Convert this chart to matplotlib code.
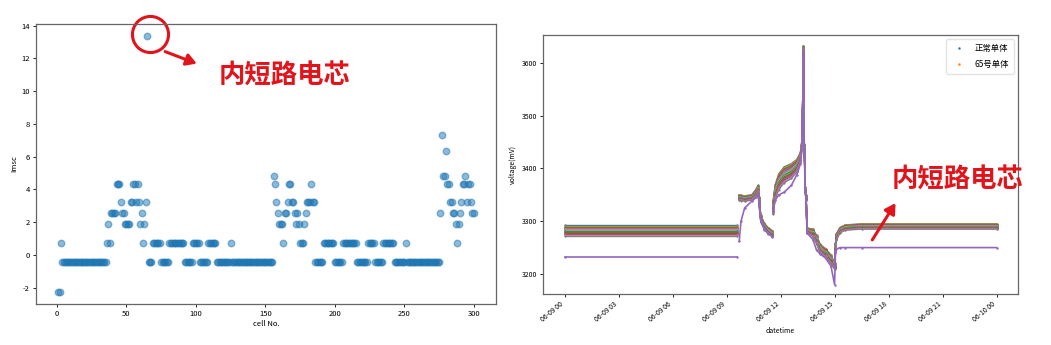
import numpy as np
import matplotlib
matplotlib.use("Agg")
import matplotlib.pyplot as plt
import matplotlib.dates as mdates
from matplotlib.lines import Line2D

plt.rcParams['font.family'] = ['Noto Sans CJK SC', 'DejaVu Sans']
plt.rcParams['axes.unicode_minus'] = False

# ---- left chart: Imsc of every cell ----
imsc = [
    -2.24, -2.24, 0.73, -0.41, -0.41, -0.41, -0.41, -0.41, -0.41, -0.41,
    -0.41, -0.41, -0.41, -0.41, -0.41, -0.41, -0.41, -0.41, -0.41, -0.41,
    -0.41, -0.41, -0.41, -0.41, -0.41, -0.41, -0.41, -0.41, -0.41, -0.41,
    -0.41, -0.41, -0.41, -0.41, -0.41, 0.73, 1.9, 0.73, 2.57, 2.57,
    2.57, 2.57, 4.3, 4.3, 4.3, 3.2, 2.57, 2.57, 1.9, 1.9,
    1.9, 1.9, 3.2, 3.2, 4.3, 4.3, 3.2, 4.3, 3.2, 1.9,
    2.57, 0.73, 1.9, 3.2, 13.37, -0.41, -0.41, -0.41, 0.73, 0.73,
    0.73, 0.73, 0.73, 0.73, -0.41, -0.41, -0.41, -0.41, -0.41, -0.41,
    0.73, 0.73, 0.73, 0.73, 0.73, 0.73, 0.73, 0.73, 0.73, 0.73,
    0.73, -0.41, -0.41, -0.41, -0.41, -0.41, -0.41, 0.73, 0.73, 0.73,
    0.73, 0.73, -0.41, -0.41, -0.41, -0.41, -0.41, -0.41, 0.73, 0.73,
    0.73, 0.73, 0.73, 0.73, -0.41, -0.41, -0.41, -0.41, -0.41, -0.41,
    -0.41, -0.41, -0.41, -0.41, 0.73, -0.41, -0.41, -0.41, -0.41, -0.41,
    -0.41, -0.41, -0.41, -0.41, -0.41, -0.41, -0.41, -0.41, -0.41, -0.41,
    -0.41, -0.41, -0.41, -0.41, -0.41, -0.41, -0.41, -0.41, -0.41, -0.41,
    -0.41, -0.41, -0.41, -0.41, -0.41, 4.84, 4.3, 3.2, 2.57, 1.9,
    1.9, 1.9, 0.73, 2.57, 2.57, 3.2, 4.3, 4.3, 3.2, 3.2,
    2.57, 1.9, 2.57, 1.9, 0.73, 0.73, 0.73, 1.9, 2.57, 3.2,
    3.2, 3.2, 4.3, 3.2, 3.2, -0.41, -0.41, -0.41, -0.41, -0.41,
    -0.41, 0.73, 0.73, 0.73, 0.73, 0.73, 0.73, 0.73, 0.73, -0.41,
    -0.41, -0.41, -0.41, -0.41, -0.41, 0.73, 0.73, 0.73, 0.73, 0.73,
    0.73, 0.73, 0.73, 0.73, 0.73, -0.41, -0.41, -0.41, -0.41, -0.41,
    -0.41, -0.41, -0.41, 0.73, 0.73, 0.73, 0.73, 0.73, -0.41, -0.41,
    -0.41, -0.41, -0.41, -0.41, 0.73, 0.73, 0.73, 0.73, 0.73, 0.73,
    0.73, 0.73, -0.41, -0.41, -0.41, -0.41, -0.41, -0.41, -0.41, -0.41,
    0.73, -0.41, -0.41, -0.41, -0.41, -0.41, -0.41, -0.41, -0.41, -0.41,
    -0.41, -0.41, -0.41, -0.41, -0.41, -0.41, -0.41, -0.41, -0.41, -0.41,
    -0.41, -0.41, -0.41, -0.41, -0.41, 2.57, 7.35, 4.84, 4.84, 6.35,
    4.3, 4.3, 3.2, 3.2, 2.57, 2.57, 1.9, 0.73, 1.9, 2.57,
    3.2, 4.3, 4.3, 4.84, 3.2, 4.3, 4.3, 3.2, 2.57, 2.57,
]
cell_no = np.arange(1, len(imsc) + 1)
bad_cell = 65

# ---- right chart: cell voltage over one day (hours from 06-09 00:00) ----
seg_hours = [
    [0.0, 9.6],
    [9.7, 9.8, 10.0, 10.4, 10.65, 10.75, 10.8, 10.9, 11.1, 11.3, 11.55],
    [11.58, 11.7, 11.9, 12.2, 12.6, 12.9, 13.1, 13.2, 13.27, 13.32, 13.37,
     13.42, 13.47, 13.8, 14.0, 14.2, 14.5, 14.8, 15.0, 15.05, 15.1, 15.3,
     15.6, 16.5, 24.0],
]
normal_mid = [
    [3282, 3282],
    [3345, 3344, 3343, 3345, 3355, 3362, 3340, 3305, 3290, 3282, 3276],
    [3325, 3355, 3375, 3388, 3395, 3405, 3420, 3450, 3630, 3440, 3360,
     3345, 3282, 3278, 3265, 3248, 3240, 3228, 3215, 3250, 3270, 3283,
     3288, 3290, 3290],
]
normal_spread = [
    [10, 10],
    [5, 5, 5, 5, 6, 6, 6, 6, 6, 6, 6],
    [12, 14, 15, 15, 14, 12, 10, 8, 2, 6, 5, 5, 5, 7, 8, 8, 8, 8, 6, 8,
     6, 5, 5, 5, 5],
]
cell65_v = [
    [3232, 3232],
    [3262, 3300, 3325, 3338, 3345, 3352, 3335, 3300, 3285, 3278, 3272],
    [3320, 3340, 3350, 3355, 3368, 3388, 3408, 3440, 3620, 3430, 3355,
     3340, 3278, 3265, 3245, 3238, 3230, 3215, 3180, 3240, 3247, 3250,
     3250, 3250, 3250],
]
cell_offsets = [1.0, 0.9, 0.75, 0.6, 0.55, 0.4, 0.3, 0.2, 0.1, 0.0,
                -0.1, -0.2, -0.3, -0.45, -0.55, -0.7, -0.85, -1.0]

day0 = np.datetime64('2021-06-09T00:00')


def to_time(hours):
    return day0 + (np.array(hours) * 3600).astype('timedelta64[s]')


fig = plt.figure(figsize=(10.51, 3.45), dpi=100)
red = '#e3131b'
grey = '#666666'

# left
ax1 = fig.add_axes([0.0343, 0.1188, 0.4377, 0.8116])
ax1.scatter(cell_no, imsc, s=22, alpha=0.5, color='#1f77b4')
ax1.set_xlim(-15, 316)
ax1.set_ylim(-3.0, 14.1)
ax1.set_xlabel('cell No.', fontsize=5.5, labelpad=1)
ax1.set_ylabel('Imsc', fontsize=5.5, labelpad=2)
ax1.tick_params(labelsize=5.5, length=2.5, width=0.6, pad=2)
for s in ax1.spines.values():
    s.set_color(grey)
    s.set_linewidth(0.9)

# circle round the faulty cell, arrow and text
ax1.plot(bad_cell + 2.0, imsc[bad_cell - 1] + 0.1, 'o', ms=26, mfc='none',
         mec=red, mew=2.2, clip_on=False)
ax1.annotate('', xy=(0.355, 0.855), xytext=(0.275, 0.905),
             xycoords='axes fraction',
             arrowprops=dict(arrowstyle='-|>,head_length=0.6,head_width=0.35',
                             color=red, lw=2.2))
ax1.text(0.54, 0.815, '内短路电芯', transform=ax1.transAxes, color=red,
         fontsize=19, fontweight='bold', ha='center', va='center')

# right
ax2 = fig.add_axes([0.5167, 0.1478, 0.452, 0.7507])
colors = plt.rcParams['axes.prop_cycle'].by_key()['color']
for k, off in enumerate(cell_offsets):
    for h, mid, sp in zip(seg_hours, normal_mid, normal_spread):
        v = np.array(mid) + off * np.array(sp)
        ax2.plot(to_time(h), v, color=colors[k % len(colors)], lw=1.0,
                 marker='.', ms=1.2)
for h, v in zip(seg_hours, cell65_v):
    ax2.plot(to_time(h), v, color='#9467bd', lw=1.2, marker='.', ms=1.5)

ax2.set_xlim(to_time([-1.2])[0], to_time([25.2])[0])
ax2.set_ylim(3162, 3653)
ax2.set_yticks([3200, 3300, 3400, 3500, 3600])
ax2.xaxis.set_major_locator(mdates.HourLocator(byhour=range(0, 24, 3)))
ax2.xaxis.set_major_formatter(mdates.DateFormatter('%m-%d %H'))
ax2.tick_params(labelsize=5, length=2.5, width=0.6, pad=2)
for lab in ax2.get_xticklabels():
    lab.set_rotation(40)
    lab.set_ha('right')
ax2.set_xlabel('datetime', fontsize=5, labelpad=2)
ax2.set_ylabel('voltage(mV)', fontsize=5, labelpad=3)
for s in ax2.spines.values():
    s.set_color(grey)
    s.set_linewidth(0.9)

handles = [Line2D([], [], ls='none', marker='.', ms=1.5, color='#1f77b4'),
           Line2D([], [], ls='none', marker='.', ms=1.5, color='#ff7f0e')]
ax2.legend(handles, ['正常单体', '65号单体'], loc='upper right', fontsize=6,
           framealpha=0.8, edgecolor='#dddddd', handlelength=2,
           borderpad=0.6, labelspacing=0.8)

ax2.annotate('', xy=(0.745, 0.36), xytext=(0.69, 0.2),
             xycoords='axes fraction',
             arrowprops=dict(arrowstyle='-|>,head_length=0.6,head_width=0.35',
                             color=red, lw=2.2))
ax2.text(0.872, 0.44, '内短路电芯', transform=ax2.transAxes, color=red,
         fontsize=19, fontweight='bold', ha='center', va='center')

fig.savefig('out.png', dpi=100)
